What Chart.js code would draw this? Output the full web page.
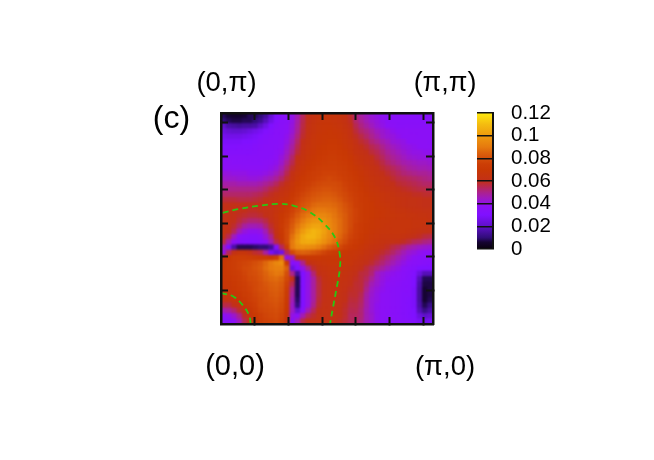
<!DOCTYPE html>
<html>
<head>
<meta charset="utf-8">
<title>Heat map (c)</title>
<script src="https://cdn.jsdelivr.net/npm/chart.js@4"></script>
<style>
    html, body { margin: 0; padding: 0; background: #fff; }
    #wrap { position: relative; width: 654px; height: 460px; overflow: hidden; }
    canvas { position: absolute; left: 0; top: 0; }
</style>
</head>
<body>
<div id="wrap">
    <canvas id="heat" width="654" height="460"></canvas>
    <canvas id="bar" width="654" height="460"></canvas>
</div>
<script>
// heat values, in 0.001 units, first row is the top of the plot
const heatRows = [
[8,6,5,5,6,8,8,10,14,22,30,35,36,40,46,54,60,63,65,66,66,66,65,63,58,52,48,45,42,40,38,37,36,35,35,35,34,34,33,34],
[10,8,7,7,8,8,10,13,18,25,32,35,36,40,47,55,60,64,66,67,67,66,65,63,59,53,49,46,43,41,39,37,36,36,35,35,35,35,35,35],
[20,16,15,14,15,15,16,20,25,30,34,36,37,41,48,56,61,65,67,68,68,67,66,64,60,55,51,48,45,42,40,38,37,36,36,36,36,36,36,36],
[24,22,21,21,22,24,26,28,31,33,35,36,38,42,49,57,62,65,67,68,69,68,67,65,62,57,53,51,48,45,43,41,39,38,38,37,37,37,37,37],
[27,26,26,26,27,28,29,31,33,34,35,36,39,44,51,58,63,66,68,69,69,69,68,66,63,59,56,53,50,47,44,42,41,39,38,38,38,37,37,37],
[29,29,29,29,30,30,31,33,34,35,35,37,40,46,53,60,64,67,68,69,70,70,69,67,65,61,58,56,52,50,47,45,42,41,40,38,38,38,38,37],
[31,31,31,32,32,32,33,34,35,35,36,38,42,48,55,61,65,67,69,70,71,71,70,68,66,63,60,58,55,53,50,47,45,43,41,40,39,38,38,38],
[33,33,33,33,33,33,34,35,35,35,37,39,44,50,57,63,66,68,70,71,72,72,71,70,67,64,62,60,57,55,52,49,47,45,43,41,40,40,39,39],
[35,35,35,35,35,35,35,35,35,36,38,41,46,53,60,64,67,69,71,72,73,73,72,71,69,66,64,62,60,57,54,51,49,47,45,43,42,41,41,41],
[37,37,36,36,36,36,36,36,37,38,39,43,49,55,62,66,69,71,72,73,74,74,73,72,70,67,65,63,61,59,56,53,51,49,47,46,45,44,44,43],
[38,38,38,38,37,37,37,37,38,39,41,46,52,58,64,68,70,72,74,75,75,75,74,73,71,69,67,65,63,61,58,56,54,52,50,48,47,46,46,45],
[41,41,40,40,40,39,39,39,40,42,45,49,55,61,66,69,72,74,75,76,76,76,75,74,72,70,68,66,64,62,60,58,56,54,52,51,50,49,49,48],
[44,43,43,42,42,41,41,42,44,46,49,53,58,63,68,71,73,75,76,77,78,77,76,75,73,71,69,67,65,64,62,60,58,56,55,54,53,52,51,50],
[47,47,47,46,46,46,46,47,49,51,54,58,61,66,70,73,75,77,78,79,79,79,78,76,74,72,70,68,66,64,63,61,60,58,57,56,55,54,53,53],
[50,50,50,50,50,50,50,51,53,56,58,61,64,68,72,75,77,79,80,81,81,80,79,77,75,73,71,69,67,66,64,63,62,60,59,58,57,56,56,55],
[53,53,53,53,53,53,54,55,57,59,61,64,66,70,74,77,79,81,82,83,83,82,80,78,76,74,72,70,68,67,66,65,64,62,61,60,59,59,58,58],
[57,57,57,56,56,56,57,58,60,61,63,66,68,72,76,79,81,83,84,85,85,84,82,79,77,75,72,71,69,68,66,65,65,64,63,62,62,61,60,60],
[60,60,60,60,60,60,60,60,61,62,64,67,70,74,78,81,83,86,87,87,87,86,84,81,78,75,73,71,70,68,67,66,65,64,63,62,62,61,60,60],
[60,61,61,60,60,59,59,60,61,62,65,68,72,76,80,84,86,89,90,90,89,88,85,82,79,76,73,71,70,69,68,67,66,65,65,64,63,63,62,62],
[61,61,60,59,58,57,57,58,60,62,66,70,74,78,83,87,90,93,94,94,92,89,86,83,79,76,73,71,70,69,68,67,67,66,66,65,65,64,64,63],
[62,61,60,57,54,52,52,53,56,60,65,71,76,81,86,90,95,98,99,97,94,90,87,83,79,76,73,71,69,68,67,67,66,66,66,66,65,65,65,64],
[63,61,58,53,48,46,46,47,52,58,65,72,77,83,89,95,100,103,103,100,95,91,87,83,79,75,72,70,69,68,67,66,66,66,66,66,65,65,64,63],
[63,60,54,46,41,39,39,40,46,55,63,71,78,85,93,100,105,108,106,102,96,91,87,83,78,75,72,70,68,67,66,66,66,66,66,65,64,63,62,61],
[62,55,45,38,35,34,34,36,42,50,60,70,78,88,97,104,108,108,105,100,95,90,86,81,77,74,71,69,67,66,65,65,65,65,64,62,60,59,57,56],
[56,46,38,34,32,31,31,33,38,46,56,66,78,90,99,104,105,104,101,97,92,88,83,79,75,72,70,68,66,65,64,63,62,61,59,57,54,53,51,50],
[45,30,16,8,8,8,9,10,10,14,34,54,74,90,96,97,96,95,92,88,84,81,78,75,72,70,68,66,64,63,61,59,56,54,51,48,46,44,43,42],
[40,54,62,66,66,62,58,56,48,28,22,26,54,78,84,85,84,82,80,77,74,72,71,70,68,67,66,64,62,60,58,56,53,50,46,43,41,39,38,38],
[66,70,74,75,75,74,73,72,72,70,74,88,40,44,64,68,70,70,70,69,69,69,69,68,67,66,64,62,60,58,55,52,49,46,43,40,38,36,36,36],
[70,72,74,76,77,78,80,82,86,90,94,96,72,34,38,50,60,64,66,67,68,68,68,67,66,64,62,60,58,55,52,49,46,43,40,38,36,35,34,33],
[70,72,74,76,78,79,81,83,87,90,92,92,84,24,30,40,50,58,63,65,66,66,66,65,64,62,60,57,54,51,48,45,42,40,37,35,33,30,30,30],
[70,71,73,75,77,79,80,82,85,88,90,89,80,50,14,30,40,52,60,63,65,65,65,64,62,60,57,56,52,45,42,40,39,38,36,34,31,24,18,18],
[69,70,72,74,76,78,79,81,84,86,87,85,78,60,8,30,40,48,57,62,64,65,64,63,61,59,57,54,49,44,41,39,38,37,35,33,30,18,8,8],
[68,69,71,73,75,77,78,80,82,84,85,83,76,55,8,30,40,48,56,61,63,64,63,62,60,58,57,52,46,43,40,38,37,36,34,33,30,16,7,7],
[67,68,70,72,74,76,78,80,81,83,84,82,74,50,8,30,40,48,56,61,63,63,63,61,59,58,57,50,44,41,39,37,36,35,34,33,29,15,6,7],
[66,67,68,70,73,75,77,79,80,82,83,81,73,48,8,30,40,48,56,61,63,63,62,60,58,58,55,48,43,40,38,37,36,35,33,33,29,15,6,7],
[63,64,66,68,71,74,76,78,80,81,82,80,72,46,9,30,40,48,57,61,62,62,61,60,57,57,54,47,42,40,38,37,36,35,33,32,29,15,6,8],
[56,56,60,64,68,72,75,78,79,80,81,79,71,44,11,30,40,50,58,62,62,62,61,59,56,56,53,47,42,39,38,37,36,35,33,32,29,16,8,12],
[46,48,52,58,64,69,73,77,78,79,80,78,70,44,22,34,46,54,60,62,62,62,60,58,55,55,52,46,42,39,38,37,36,35,33,32,30,18,12,16],
[38,39,43,50,59,66,71,75,77,78,79,77,68,40,38,46,54,58,61,62,62,61,60,58,54,54,52,46,43,39,38,37,36,35,33,32,30,24,20,22],
[33,34,38,45,55,63,69,74,76,77,78,76,64,35,45,56,60,61,62,62,62,61,59,57,54,54,51,46,43,39,38,37,36,35,34,33,32,28,26,28]
];

// green dashed contours, in the same k units as the axes
const outerContourX = [0.025, 0.28, 0.58, 0.85, 1.07, 1.32, 1.54, 1.69, 1.76, 1.76, 1.71, 1.655, 1.615];
const outerContourY = [1.655, 1.715, 1.763, 1.789, 1.763, 1.664, 1.482, 1.285, 1.037, 0.815, 0.519, 0.222, 0];
const innerContourX = [0, 0.182, 0.33, 0.419, 0.44];
const innerContourY = [0.459, 0.41, 0.271, 0.123, 0];

const colorbarTop = 0.12;
const colorbarStep = 0.02;
const axisStep = 0.5;

const cornerLabels = ['(0,\u03c0)', '(\u03c0,\u03c0)', '(0,0)', '(\u03c0,0)', '(c)'];

// palette, value in 0.001 units -> rgb
const palette = [
    [0, 8, 0, 12],
    [6, 22, 4, 50],
    [10, 48, 12, 120],
    [20, 95, 16, 200],
    [30, 128, 16, 255],
    [38, 140, 16, 245],
    [45, 160, 26, 190],
    [50, 172, 34, 140],
    [55, 184, 40, 80],
    [60, 194, 48, 24],
    [70, 200, 56, 4],
    [75, 204, 62, 6],
    [80, 212, 78, 10],
    [85, 220, 98, 12],
    [90, 230, 122, 14],
    [100, 238, 154, 14],
    [110, 244, 188, 16],
    [120, 255, 234, 16]
];

function colorFor(v) {
    for (let i = 1; i < palette.length; i++) {
        if (v <= palette[i][0]) {
            const a = palette[i - 1], b = palette[i];
            const t = (v - a[0]) / (b[0] - a[0]);
            const c = [1, 2, 3].map(k => Math.round(a[k] + (b[k] - a[k]) * t));
            return 'rgb(' + c.join(',') + ')';
        }
    }
    return 'rgb(255,234,16)';
}

const heatPoints = [];
const heatColors = [];
const nRows = heatRows.length;
heatRows.forEach((row, r) => {
    row.forEach((v, c) => {
        heatPoints.push({ x: (c + 0.5) / row.length * Math.PI, y: (nRows - r - 0.5) / nRows * Math.PI });
        heatColors.push(colorFor(v));
    });
});

function zipPoints(xs, ys) {
    return xs.map((x, i) => ({ x: x, y: ys[i] }));
}

function frameScale(position, axis) {
    return {
        type: 'linear',
        position: position,
        axis: axis,
        min: 0,
        max: Math.PI,
        afterBuildTicks: scale => {
            scale.ticks = [];
            for (let t = axisStep; t < Math.PI; t += axisStep) scale.ticks.push({ value: t });
        },
        afterFit: scale => {
            if (axis === 'x') scale.height = 0; else scale.width = 0;
        },
        ticks: { display: false },
        grid: { drawOnChartArea: false, tickLength: -7, tickColor: '#111', tickWidth: 2, z: 2 },
        border: { color: '#111', width: 2.5, z: 2 }
    };
}

// the original is a smoothed map: soften the cells once they are all painted
const smoothCells = {
    id: 'smoothCells',
    afterDatasetDraw(chart, args) {
        if (args.index !== 0) return;
        const ctx = chart.ctx;
        const a = chart.chartArea;
        const w = a.right - a.left, h = a.bottom - a.top;
        ctx.save();
        ctx.beginPath();
        ctx.rect(a.left, a.top, w, h);
        ctx.clip();
        ctx.filter = 'blur(1.2px)';
        ctx.drawImage(chart.canvas, a.left, a.top, w, h, a.left, a.top, w, h);
        ctx.restore();
    }
};

const cornerText = {
    id: 'cornerText',
    afterDraw(chart) {
        const ctx = chart.ctx;
        const spots = [[226.5, 91], [445, 91], [235, 375], [445, 375], [171.5, 128]];
        const sizes = [27.5, 27, 29, 27.5, 32];
        ctx.save();
        ctx.fillStyle = '#000';
        ctx.textAlign = 'center';
        ctx.textBaseline = 'alphabetic';
        cornerLabels.forEach((text, i) => {
            ctx.font = sizes[i] + 'px "Liberation Sans"';
            ctx.fillText(text, spots[i][0], spots[i][1]);
        });
        ctx.restore();
    }
};

new Chart(document.getElementById('heat'), {
    type: 'scatter',
    data: {
        datasets: [
            {
                label: 'heat',
                data: heatPoints,
                pointStyle: 'rect',
                pointRadius: 4.3,
                pointBorderWidth: 0,
                pointBackgroundColor: heatColors,
                order: 2
            },
            {
                label: 'outer contour',
                data: zipPoints(outerContourX, outerContourY),
                showLine: true,
                tension: 0.4,
                pointRadius: 0,
                borderColor: '#28c814',
                borderWidth: 1.8,
                borderDash: [6, 4],
                order: 1
            },
            {
                label: 'inner contour',
                data: zipPoints(innerContourX, innerContourY),
                showLine: true,
                tension: 0.4,
                pointRadius: 0,
                borderColor: '#28c814',
                borderWidth: 1.8,
                borderDash: [6, 4],
                order: 1
            }
        ]
    },
    options: {
        responsive: false,
        animation: false,
        events: [],
        layout: { padding: { left: 221, right: 221, top: 113, bottom: 136 } },
        plugins: { legend: { display: false }, tooltip: { enabled: false } },
        scales: {
            x: frameScale('bottom', 'x'),
            x2: frameScale('top', 'x'),
            y: frameScale('left', 'y'),
            y2: frameScale('right', 'y')
        }
    },
    plugins: [smoothCells, cornerText]
});

function barGradient(context) {
    const area = context.chart.chartArea;
    if (!area) return '#000';
    const g = context.chart.ctx.createLinearGradient(0, area.bottom, 0, area.top);
    palette.forEach(p => g.addColorStop(p[0] / 120, 'rgb(' + p[1] + ',' + p[2] + ',' + p[3] + ')'));
    return g;
}

new Chart(document.getElementById('bar'), {
    type: 'bar',
    data: {
        labels: ['scale'],
        datasets: [{
            data: [colorbarTop],
            backgroundColor: barGradient,
            barPercentage: 1,
            categoryPercentage: 1
        }]
    },
    options: {
        responsive: false,
        animation: false,
        events: [],
        layout: { padding: { left: 477, right: 81, top: 113, bottom: 211 } },
        plugins: { legend: { display: false }, tooltip: { enabled: false } },
        scales: {
            x: { display: false },
            y: {
                position: 'right',
                min: 0,
                max: colorbarTop,
                afterFit: scale => { scale.width = 80; },
                ticks: {
                    stepSize: colorbarStep,
                    autoSkip: false,
                    color: '#000',
                    padding: 18,
                    crossAlign: 'near',
                    font: { family: '"Liberation Sans"', size: 20.5 },
                    callback: value => String(Number(value.toFixed(2)))
                },
                grid: { drawTicks: false, color: '#111', lineWidth: 1.5, z: 2 },
                border: { color: '#111', width: 2, z: 2 }
            }
        }
    }
});
</script>
</body>
</html>
